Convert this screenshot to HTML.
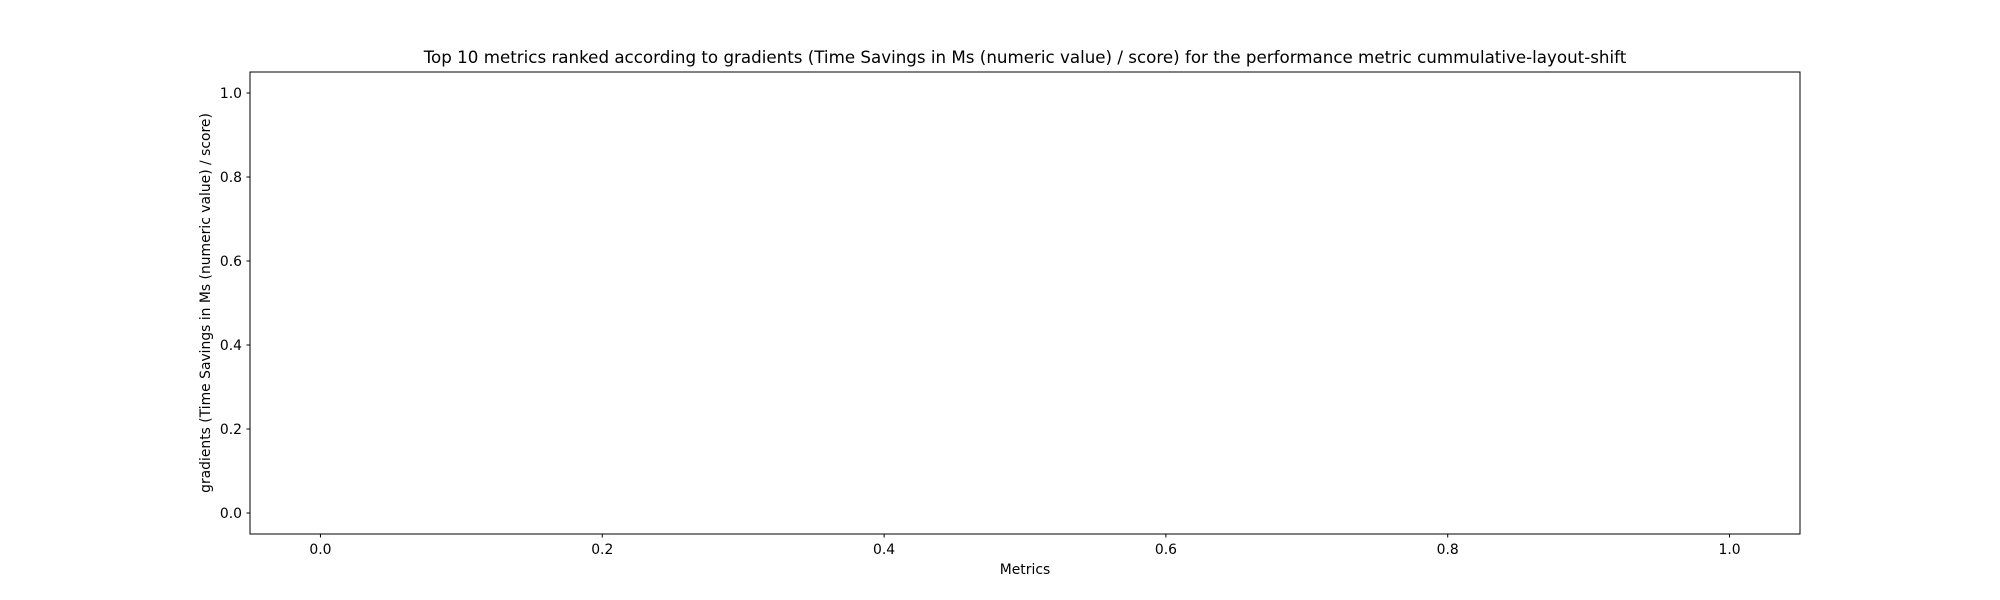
<!DOCTYPE html>
<html><head><meta charset="utf-8">
<style>
html,body{margin:0;padding:0;background:#fff;}
svg{display:block;font-family:"DejaVu Sans","Liberation Sans",sans-serif;}
</style></head>
<body>
<svg id="chart" width="2000" height="600" viewBox="0 0 2000 600">
<rect x="0" y="0" width="2000" height="600" fill="#fff"/>
<text x="1025" y="63" font-size="16.7" text-anchor="middle" fill="#000">Top 10 metrics ranked according to gradients (Time Savings in Ms (numeric value) / score) for the performance metric cummulative-layout-shift</text>
<rect x="250" y="72" width="1550" height="462" fill="none" stroke="#000" stroke-width="1"/>
<g id="xt"></g>
<g id="yt"></g>
<text x="1025" y="574" font-size="13.9" text-anchor="middle">Metrics</text>
<text transform="translate(210,303) rotate(-90)" font-size="13.9" text-anchor="middle">gradients (Time Savings in Ms (numeric value) / score)</text>
</svg>
<script>
const xTicks=[0,0.2,0.4,0.6,0.8,1.0];
const xTickLabels=["0.0","0.2","0.4","0.6","0.8","1.0"];
const yTicks=[0,0.2,0.4,0.6,0.8,1.0];
const yTickLabels=["0.0","0.2","0.4","0.6","0.8","1.0"];
const xDomain=[-0.05,1.05];
const yDomain=[-0.05,1.05];
const NS="http://www.w3.org/2000/svg";
function xs(v){return 250+(v-xDomain[0])/(xDomain[1]-xDomain[0])*1550;}
function ys(v){return 534-(v-yDomain[0])/(yDomain[1]-yDomain[0])*462;}
const xg=document.getElementById('xt'),yg=document.getElementById('yt');
xTicks.forEach((v,i)=>{
  const l=document.createElementNS(NS,'line');
  l.setAttribute('x1',xs(v));l.setAttribute('x2',xs(v));l.setAttribute('y1',534);l.setAttribute('y2',537.5);l.setAttribute('stroke','#000');
  
  
  xg.appendChild(l);
  const t=document.createElementNS(NS,'text');
  t.setAttribute('x',xs(v));t.setAttribute('y',554);t.setAttribute('font-size','13.9');t.setAttribute('text-anchor','middle');
  t.textContent=xTickLabels[i];
  
  
  xg.appendChild(t);
});
yTicks.forEach((v,i)=>{
  const l=document.createElementNS(NS,'line');
  l.setAttribute('x1',246.5);l.setAttribute('x2',250);l.setAttribute('y1',ys(v));l.setAttribute('y2',ys(v));l.setAttribute('stroke','#000');
  
  
  yg.appendChild(l);
  const t=document.createElementNS(NS,'text');
  t.setAttribute('x',242);t.setAttribute('y',ys(v)+5);t.setAttribute('font-size','13.9');t.setAttribute('text-anchor','end');
  t.textContent=yTickLabels[i];
  
  
  yg.appendChild(t);
});
</script>
</body></html>
